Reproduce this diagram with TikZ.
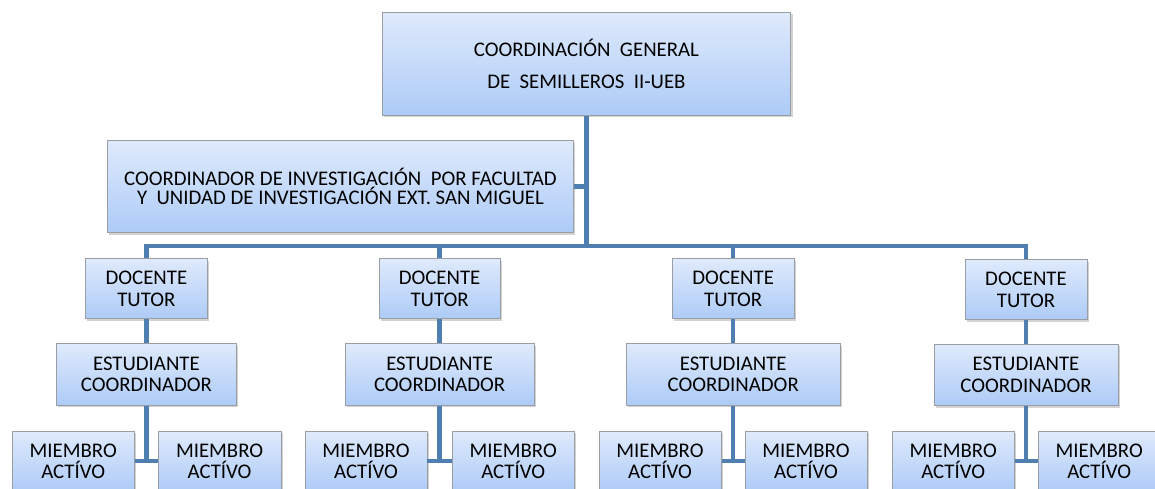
\documentclass[tikz,border=0pt]{standalone}
\usepackage{fontspec}
\setmainfont{Carlito}
\usetikzlibrary{shadows}
\definecolor{box-top}{HTML}{DFEAFC}
\definecolor{box-bottom}{HTML}{ADCBF7}
\definecolor{box-edge}{HTML}{9A9EA4}
\definecolor{link-blue}{HTML}{4F7EB0}
\tikzset{
  orgbox/.style={rectangle, draw=box-edge, line width=0.7pt, top color=box-top, bottom color=box-bottom,
    drop shadow={opacity=0.35, shadow xshift=1.2pt, shadow yshift=-1.6pt},
    inner sep=0pt, align=center, font=\fontsize{14.8}{15.4}\selectfont},
  link/.style={draw=link-blue, line width=3pt}
}

\begin{document}
\begin{tikzpicture}
        % Page frame
        \useasboundingbox (0, 0) rectangle (28.875, -12.2);
        \clip (0, 0) rectangle (28.875, -12.2);
        % General coordination box
        \node[orgbox, minimum width=10.22cm, minimum height=2.58cm, font=\fontsize{14.8}{22.8}\selectfont] (gen) at (14.66, -1.59) {COORDINACIÓN~~GENERAL\\DE~~SEMILLEROS~~II-UEB};
        % Faculty coordinator box
        \node[orgbox, minimum width=11.63cm, minimum height=2.3cm, font=\fontsize{14.8}{14.2}\selectfont] (coord) at (8.51, -4.66) {COORDINADOR DE INVESTIGACIÓN~~POR FACULTAD\\Y~~UNIDAD DE INVESTIGACIÓN EXT. SAN MIGUEL};
        % Bus junction
        \coordinate (hub) at (14.66, -6.15);
        % Docente boxes
        \node[orgbox, minimum width=3.03cm, minimum height=1.5cm] (doc1) at (3.66, -7.22) {DOCENTE\\TUTOR};
        \node[orgbox, minimum width=3.03cm, minimum height=1.5cm] (doc2) at (10.99, -7.22) {DOCENTE\\TUTOR};
        \node[orgbox, minimum width=3.05cm, minimum height=1.5cm] (doc3) at (18.33, -7.22) {DOCENTE\\TUTOR};
        \node[orgbox, minimum width=3.05cm, minimum height=1.5cm] (doc4) at (25.65, -7.24) {DOCENTE\\TUTOR};
        % Estudiante boxes
        \node[orgbox, minimum width=4.48cm, minimum height=1.53cm] (est1) at (3.66, -9.36) {ESTUDIANTE\\COORDINADOR};
        \node[orgbox, minimum width=4.73cm, minimum height=1.53cm] (est2) at (10.99, -9.36) {ESTUDIANTE\\COORDINADOR};
        \node[orgbox, minimum width=5.35cm, minimum height=1.53cm] (est3) at (18.33, -9.36) {ESTUDIANTE\\COORDINADOR};
        \node[orgbox, minimum width=4.6cm, minimum height=1.53cm] (est4) at (25.65, -9.37) {ESTUDIANTE\\COORDINADOR};
        % Miembro boxes
        \node[orgbox, minimum width=3.05cm, minimum height=1.5cm] (mie1a) at (1.83, -11.53) {MIEMBRO\\ACTÍVO};
        \node[orgbox, minimum width=3.07cm, minimum height=1.5cm] (mie1b) at (5.49, -11.53) {MIEMBRO\\ACTÍVO};
        \node[orgbox, minimum width=3.05cm, minimum height=1.5cm] (mie2a) at (9.15, -11.53) {MIEMBRO\\ACTÍVO};
        \node[orgbox, minimum width=3.05cm, minimum height=1.5cm] (mie2b) at (12.83, -11.53) {MIEMBRO\\ACTÍVO};
        \node[orgbox, minimum width=3.05cm, minimum height=1.5cm] (mie3a) at (16.5, -11.53) {MIEMBRO\\ACTÍVO};
        \node[orgbox, minimum width=3.05cm, minimum height=1.5cm] (mie3b) at (20.15, -11.53) {MIEMBRO\\ACTÍVO};
        \node[orgbox, minimum width=3.05cm, minimum height=1.5cm] (mie4a) at (23.83, -11.53) {MIEMBRO\\ACTÍVO};
        \node[orgbox, minimum width=3.05cm, minimum height=1.5cm] (mie4b) at (27.48, -11.53) {MIEMBRO\\ACTÍVO};
        % Top trunk
        \draw[link] (gen.south) -- (hub);
        % Faculty coordinator to trunk
        \draw[link] (coord.east) -- (coord.east -| hub);
        % Bus to docentes
        \draw[link] (doc1.north) |- (hub) -| (doc4.north);
        \draw[link] (doc2.north) -- (doc2.north |- hub);
        \draw[link] (doc3.north) -- (doc3.north |- hub);
        % Docente to estudiante
        \draw[link] (doc1.south) -- (est1.north);
        \draw[link] (doc2.south) -- (est2.north);
        \draw[link] (doc3.south) -- (est3.north);
        \draw[link] (doc4.south) -- (est4.north);
        % Estudiante to miembros
        \draw[link] (est1.south) -- (est1.south |- mie1a.east);
        \draw[link] (mie1a.east) -- (mie1b.west);
        \draw[link] (est2.south) -- (est2.south |- mie2a.east);
        \draw[link] (mie2a.east) -- (mie2b.west);
        \draw[link] (est3.south) -- (est3.south |- mie3a.east);
        \draw[link] (mie3a.east) -- (mie3b.west);
        \draw[link] (est4.south) -- (est4.south |- mie4a.east);
        \draw[link] (mie4a.east) -- (mie4b.west);
    \end{tikzpicture}
\end{document}
